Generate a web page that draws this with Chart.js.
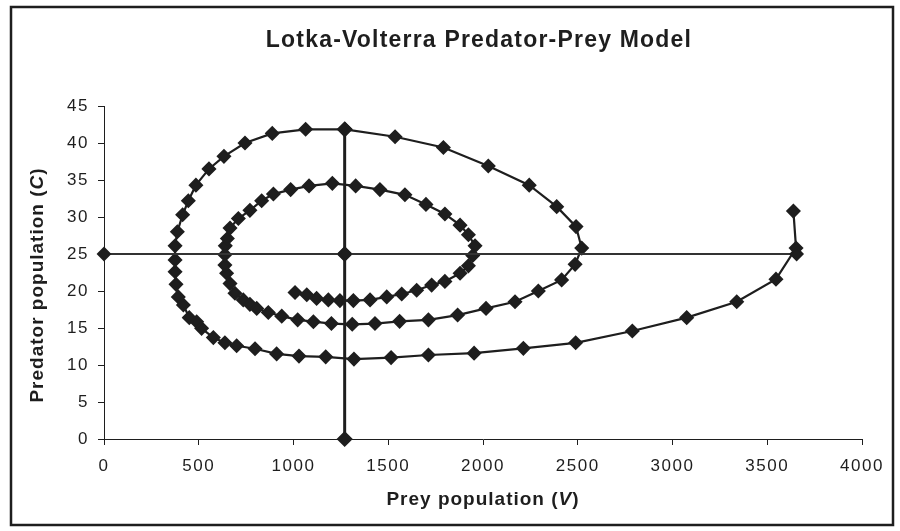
<!DOCTYPE html>
<html lang="en">
<head>
    <meta charset="UTF-8">
    <title>Lotka-Volterra Predator-Prey Model</title>
    <script src="https://cdn.jsdelivr.net/npm/chart.js"></script>
    <style>
        html, body { margin: 0; padding: 0; background: #ffffff; }
        #wrap { position: relative; width: 900px; height: 531px; }
    </style>
</head>
<body>
    <div id="wrap">
        <canvas id="lvChart" width="900" height="531"></canvas>
    </div>

    <script>
        // trajectory (prey V, predator C)
        const preyV = [
            3638, 3652, 3546, 3339, 3075, 2788, 2489, 2213, 1953, 1712,
            1515, 1319, 1170, 1029, 911, 797, 700, 638, 577, 515,
            489, 450, 419, 392, 380, 375, 375, 375, 387, 415,
            445, 485, 554, 633, 744, 888, 1064, 1272, 1536, 1791,
            2028, 2244, 2389, 2491, 2521, 2486, 2415, 2292, 2169, 2016,
            1866, 1712, 1560, 1430, 1310, 1200, 1105, 1022, 938, 867,
            806, 770, 735, 691, 665, 647, 638, 638, 640, 651,
            665, 709, 770, 832, 894, 985, 1082, 1205, 1328, 1456,
            1588, 1699, 1799, 1879, 1923, 1958, 1946, 1923, 1879, 1799,
            1729, 1650, 1571, 1492, 1404, 1316, 1245, 1184, 1122, 1070,
            1008
        ];
        const predatorC = [
            30.8, 25.8, 21.6, 18.55, 16.4, 14.6, 13.0, 12.25, 11.6, 11.35,
            11.0, 10.8, 11.1, 11.2, 11.5, 12.2, 12.6, 13.0, 13.7, 14.95,
            15.85, 16.4, 18.1, 19.2, 20.9, 22.6, 24.2, 26.1, 28.0, 30.3,
            32.2, 34.3, 36.5, 38.2, 40.0, 41.3, 41.85, 41.85, 40.85, 39.4,
            36.9, 34.3, 31.4, 28.7, 25.8, 23.6, 21.5, 20.0, 18.55, 17.65,
            16.75, 16.1, 15.9, 15.6, 15.5, 15.6, 15.85, 16.1, 16.6, 17.1,
            17.65, 18.2, 18.8, 19.7, 21.0, 22.4, 23.5, 24.9, 26.1, 27.1,
            28.5, 29.8, 30.9, 32.2, 33.1, 33.7, 34.2, 34.55, 34.2, 33.7,
            33.0, 31.7, 30.4, 28.9, 27.6, 26.1, 24.8, 23.4, 22.4, 21.3,
            20.8, 20.1, 19.6, 19.2, 18.8, 18.7, 18.7, 18.8, 19.0, 19.5,
            19.8
        ];

        // equilibrium lines
        const hLineV = [0, 1270, 3655];
        const hLineC = [25, 25, 25];
        const vLineV = [1270, 1270, 1270];
        const vLineC = [0, 25, 41.85];

        const xTicks = [0, 500, 1000, 1500, 2000, 2500, 3000, 3500, 4000];
        const yTicks = [0, 5, 10, 15, 20, 25, 30, 35, 40, 45];

        const chartTitle = 'Lotka-Volterra Predator-Prey Model';
        const xTitle = ['Prey population (', 'V', ')'];
        const yTitle = ['Predator population (', 'C', ')'];

        const ink = '#1e1e1e';

        function toPoints(xs, ys) {
            return xs.map((x, i) => ({ x: x, y: ys[i] }));
        }

        function drawMixed(ctx, parts, cx, cy) {
            const bold = 'bold 19px "Liberation Sans", Arial';
            const fonts = [bold, 'italic ' + bold, bold];
            ctx.letterSpacing = '1px';
            let total = 0;
            const widths = parts.map((p, i) => { ctx.font = fonts[i]; const w = ctx.measureText(p).width; total += w; return w; });
            let x = cx - total / 2;
            ctx.textBaseline = 'middle';
            ctx.textAlign = 'left';
            parts.forEach((p, i) => {
                ctx.font = fonts[i];
                ctx.fillText(p, x, cy);
                x += widths[i];
            });
        }

        const decor = {
            id: 'decor',
            beforeDraw(chart) {
                const ctx = chart.ctx;
                ctx.save();
                ctx.fillStyle = '#ffffff';
                ctx.fillRect(0, 0, chart.width, chart.height);
                ctx.strokeStyle = ink;
                ctx.lineWidth = 2.5;
                ctx.strokeRect(11, 7, 882, 518);
                ctx.restore();
                // the tick labels in the picture are set a little wide
                ctx.letterSpacing = '1.5px';
            },
            afterDraw(chart) {
                const ctx = chart.ctx;
                const area = chart.chartArea;
                ctx.save();
                ctx.fillStyle = ink;
                ctx.font = 'bold 23px "Liberation Sans", Arial';
                ctx.letterSpacing = '1.2px';
                ctx.textAlign = 'center';
                ctx.textBaseline = 'middle';
                ctx.fillText(chartTitle, (area.left + area.right) / 2 - 4, 41);

                drawMixed(ctx, xTitle, (area.left + area.right) / 2, 500);

                ctx.translate(38, 285);
                ctx.rotate(-Math.PI / 2);
                drawMixed(ctx, yTitle, 0, 0);
                ctx.restore();
                ctx.letterSpacing = '0px';
            }
        };

        const ctx = document.getElementById('lvChart').getContext('2d');
        const lvChart = new Chart(ctx, {
            type: 'scatter',
            data: {
                datasets: [
                    {
                        label: 'C = 25',
                        data: toPoints(hLineV, hLineC),
                        showLine: true,
                        borderColor: '#333333',
                        borderWidth: 2,
                        pointStyle: 'rectRot',
                        pointRadius: 6,
                        pointBackgroundColor: ink,
                        pointBorderColor: ink,
                        clip: false
                    },
                    {
                        label: 'V = 1270',
                        data: toPoints(vLineV, vLineC),
                        showLine: true,
                        borderColor: ink,
                        borderWidth: 3,
                        pointStyle: 'rectRot',
                        pointRadius: 6,
                        pointBackgroundColor: ink,
                        pointBorderColor: ink,
                        clip: false
                    },
                    {
                        label: 'Trajectory',
                        data: toPoints(preyV, predatorC),
                        showLine: true,
                        borderColor: ink,
                        borderWidth: 2.2,
                        pointStyle: 'rectRot',
                        pointRadius: 6,
                        pointBackgroundColor: ink,
                        pointBorderColor: ink,
                        clip: false
                    }
                ]
            },
            options: {
                responsive: false,
                animation: false,
                layout: { padding: { left: 0, top: 106, right: 38, bottom: 0 } },
                plugins: {
                    legend: { display: false },
                    title: { display: false },
                    tooltip: { enabled: false }
                },
                scales: {
                    x: {
                        type: 'linear',
                        min: xTicks[0],
                        max: xTicks[xTicks.length - 1],
                        afterFit: s => { s.height = 92; },
                        afterBuildTicks: s => { s.ticks = xTicks.map(v => ({ value: v })); },
                        grid: { drawOnChartArea: false, drawTicks: true, tickLength: 6, color: ink, lineWidth: 1 },
                        border: { display: true, color: ink, width: 1 },
                        ticks: {
                            color: ink, padding: 11,
                            font: { family: '"Liberation Sans", Arial', size: 17 },
                            callback: v => String(v)
                        }
                    },
                    y: {
                        type: 'linear',
                        min: yTicks[0],
                        max: yTicks[yTicks.length - 1],
                        afterFit: s => { s.width = 104; },
                        afterBuildTicks: s => { s.ticks = yTicks.map(v => ({ value: v })); },
                        grid: { drawOnChartArea: false, drawTicks: true, tickLength: 6, color: ink, lineWidth: 1 },
                        border: { display: true, color: ink, width: 1 },
                        ticks: {
                            color: ink, padding: 9,
                            font: { family: '"Liberation Sans", Arial', size: 17 },
                            callback: v => String(v)
                        }
                    }
                }
            },
            plugins: [decor]
        });
    </script>
</body>
</html>
